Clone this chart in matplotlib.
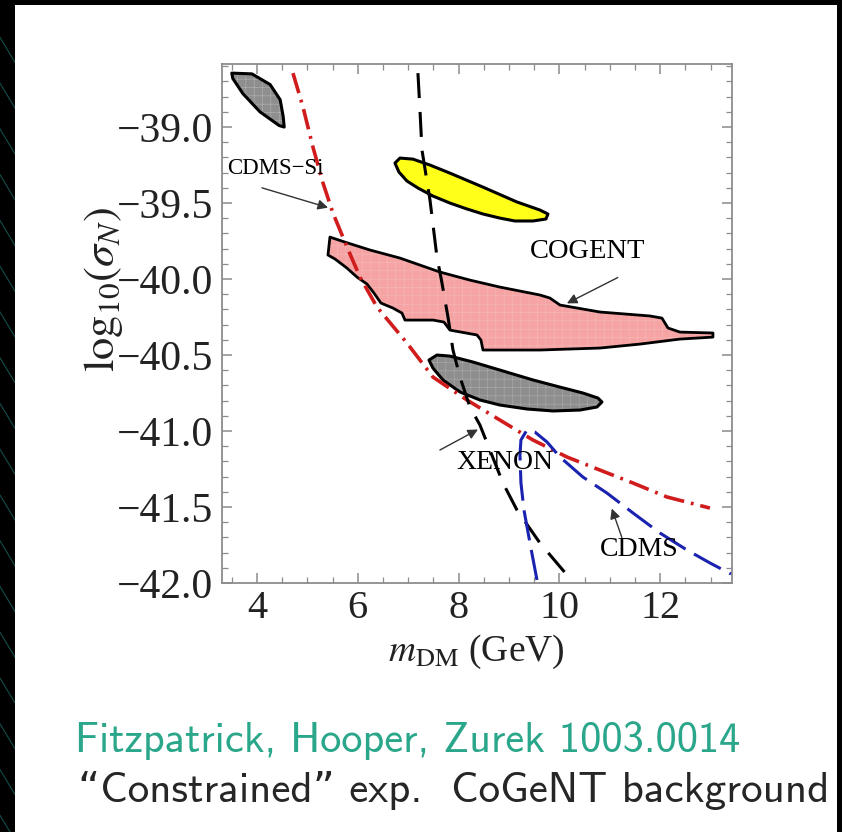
import matplotlib
matplotlib.use("Agg")
import matplotlib.pyplot as plt
from matplotlib.patches import Rectangle
from matplotlib.lines import Line2D
from matplotlib.ticker import MultipleLocator, FixedLocator

plt.rcParams['lines.scale_dashes'] = False
plt.rcParams['mathtext.fontset'] = 'stix'
plt.rcParams['hatch.linewidth'] = 0.4

# ---------------- data ----------------
# top-left gray region
blob_x = [3.50, 3.90, 4.26, 4.46, 4.52, 4.54, 4.44, 4.06, 3.72, 3.52]
blob_y = [-38.645, -38.65, -38.72, -38.82, -38.93, -39.0, -38.99, -38.90, -38.78, -38.68]

# yellow region
yellow_x = [6.738, 6.837, 7.095, 7.433, 7.829, 8.484, 9.159, 9.615, 9.774, 9.734,
            9.476, 9.119, 8.821, 8.484, 8.167, 7.829, 7.492, 7.194, 6.976, 6.817]
yellow_y = [-39.237, -39.204, -39.211, -39.250, -39.303, -39.395, -39.493, -39.546, -39.572, -39.605,
            -39.618, -39.618, -39.599, -39.572, -39.539, -39.500, -39.454, -39.401, -39.355, -39.296]

# COGENT (pink) region
cogent_x = [5.448, 5.746, 6.242, 6.837, 7.631, 8.226, 8.821, 9.615, 9.813, 10.012, 10.806, 11.798,
            12.036, 12.155, 12.393, 13.048, 13.048, 12.393, 11.599, 10.806, 9.615, 8.484, 8.444,
            8.365, 7.829, 7.710, 7.492, 6.937, 6.877, 6.698, 6.460, 6.321, 6.183, 5.984, 5.786,
            5.548, 5.409]
cogent_y = [-39.724, -39.757, -39.809, -39.862, -39.954, -40.007, -40.053, -40.105, -40.125, -40.171,
            -40.217, -40.243, -40.257, -40.322, -40.349, -40.355, -40.382, -40.395, -40.428, -40.454,
            -40.467, -40.467, -40.401, -40.368, -40.336, -40.283, -40.270, -40.270, -40.224, -40.191,
            -40.158, -40.092, -40.033, -39.987, -39.928, -39.868, -39.842]

# lower gray region
gray_x = [7.413, 7.571, 7.829, 8.286, 8.821, 9.476, 10.012, 10.468, 10.766, 10.845,
          10.746, 10.409, 9.873, 9.357, 8.821, 8.425, 8.028, 7.690, 7.492]
gray_y = [-40.533, -40.500, -40.507, -40.546, -40.599, -40.664, -40.711, -40.750, -40.783, -40.809,
          -40.842, -40.862, -40.868, -40.855, -40.829, -40.796, -40.743, -40.664, -40.586]

# CDMS-Si limit (red dash-dot)
cdmssi_x = [4.714, 4.913, 5.111, 5.310, 5.508, 5.786, 6.044, 6.381, 6.976, 7.492,
            8.167, 8.821, 9.476, 10.151, 10.806, 11.460, 12.135, 12.988]
cdmssi_y = [-38.645, -38.868, -39.132, -39.368, -39.566, -39.789, -39.987, -40.184, -40.421, -40.645,
            -40.796, -40.928, -41.059, -41.171, -41.257, -41.342, -41.434, -41.507]

# XENON limit (black dashed)
xenon_x = [7.194, 7.234, 7.274, 7.433, 7.571, 7.671, 7.790, 7.889, 8.028, 8.226,
           8.425, 8.881, 9.159, 9.615, 10.151]
xenon_y = [-38.645, -38.888, -39.151, -39.480, -39.855, -40.026, -40.250, -40.467, -40.645, -40.842,
           -40.961, -41.342, -41.520, -41.737, -41.947]

# CDMS limit (blue dashed)
cdms_x = [9.556, 9.417, 9.298, 9.238, 9.218, 9.238, 9.357, 9.516, 9.754, 10.012,
          10.468, 10.944, 11.460, 11.996, 12.532, 12.988, 13.405]
cdms_y = [-41.980, -41.737, -41.520, -41.342, -41.158, -41.059, -40.993, -41.007, -41.072, -41.171,
          -41.303, -41.408, -41.539, -41.671, -41.783, -41.868, -41.941]

xticks = [4, 6, 8, 10, 12]
xtick_labels = ['4', '6', '8', '10', '12']
yticks = [-42.0, -41.5, -41.0, -40.5, -40.0, -39.5, -39.0]
ytick_labels = ['\u221242.0', '\u221241.5', '\u221241.0', '\u221240.5', '\u221240.0', '\u221239.5', '\u221239.0']

caption1 = 'Fitzpatrick, Hooper, Zurek 1003.0014'
caption2 = '\u201cConstrained\u201d exp.  CoGeNT background'

# ---------------- figure ----------------
W, H = 842, 832
fig = plt.figure(figsize=(W / 100, H / 100), dpi=100, facecolor='black')

# teal streaks on the left dark margin
for i in range(18):
    y0 = 0.02 + i * 0.055
    fig.add_artist(Line2D([0, 15 / W], [y0, y0 - 0.03], transform=fig.transFigure,
                          color='#1d6f6a', lw=0.8, alpha=0.7, zorder=-20))

# white panel
fig.patches.append(Rectangle((15 / W, 0), (837 - 15) / W, (832 - 5) / H,
                             transform=fig.transFigure, facecolor='white',
                             edgecolor='none', zorder=-10))

ax = fig.add_axes([221.7 / W, 1 - 583 / H, (731.7 - 221.7) / W, (583 - 64) / H])
ax.set_zorder(1)
ax.set_facecolor('white')
ax.set_xlim(3.3, 13.42)
ax.set_ylim(-42.0, -38.585)

serif = 'Liberation Serif'

# regions
ax.fill(blob_x, blob_y, facecolor='#8e8e8e', edgecolor='#b4b4b4', hatch='++', lw=0, zorder=2)
ax.fill(blob_x, blob_y, facecolor='none', edgecolor='black', lw=2.2, joinstyle='round', zorder=3)
ax.fill(yellow_x, yellow_y, facecolor='#ffff1a', edgecolor='black', lw=2.2, joinstyle='round', zorder=3)
ax.fill(cogent_x, cogent_y, facecolor='#f5a3a3', edgecolor='#f7b8b8', hatch='++', lw=0, zorder=2)
ax.fill(cogent_x, cogent_y, facecolor='none', edgecolor='black', lw=2.0, joinstyle='round', zorder=3)
ax.fill(gray_x, gray_y, facecolor='#8e8e8e', edgecolor='#acacac', hatch='++', lw=0, zorder=2)
ax.fill(gray_x, gray_y, facecolor='none', edgecolor='black', lw=2.2, joinstyle='round', zorder=3)

# limit curves
ax.plot(cdmssi_x, cdmssi_y, color='#d01c1c', lw=2.6, linestyle=(0, (15, 5, 2, 5)), zorder=4)
ax.plot(xenon_x, xenon_y, color='black', lw=2.2, linestyle=(0, (18, 10)), zorder=4)
ax.plot(cdms_x, cdms_y, color='#1a22b0', lw=2.2, linestyle=(0, (22, 7)), zorder=4)

# annotations
ap = dict(arrowstyle='-|>', color='#333333', lw=1.0, mutation_scale=15, shrinkA=0, shrinkB=0)
ax.text(3.405, -39.27, 'CDMS\u2212Si', family=serif, fontsize=16.5, ha='left', va='center', zorder=5)
ax.annotate('', xy=(5.41, -39.53), xytext=(4.10, -39.40), arrowprops=ap, zorder=5)
ax.text(10.55, -39.82, 'COGENT', family=serif, fontsize=20.5, ha='center', va='center', zorder=5)
ax.annotate('', xy=(10.15, -40.16), xytext=(11.16, -39.99), arrowprops=ap, zorder=5)
ax.text(8.92, -41.21, 'XENON', family=serif, fontsize=20, ha='center', va='center', zorder=5)
ax.annotate('', xy=(8.385, -40.99), xytext=(7.63, -41.125), arrowprops=ap, zorder=5)
ax.text(11.58, -41.78, 'CDMS', family=serif, fontsize=20, ha='center', va='center', zorder=5)
ax.annotate('', xy=(11.04, -41.51), xytext=(11.24, -41.70), arrowprops=ap, zorder=5)

# frame and ticks
for s in ax.spines.values():
    s.set_color('#8c8c8c')
    s.set_linewidth(1.3)
ax.xaxis.set_major_locator(FixedLocator(xticks))
ax.set_xticklabels(xtick_labels)
ax.xaxis.set_minor_locator(MultipleLocator(0.5))
ax.yaxis.set_major_locator(FixedLocator(yticks))
ax.set_yticklabels(ytick_labels)
ax.yaxis.set_minor_locator(MultipleLocator(0.1))
ax.tick_params(which='both', direction='in', top=True, right=True, color='#8c8c8c')
ax.tick_params(which='major', length=7, width=1.1)
ax.tick_params(which='minor', length=4, width=0.9)
ax.tick_params(axis='y', which='major', labelsize=30, pad=6)
ax.tick_params(axis='x', which='major', labelsize=29, pad=5)
for lab in ax.get_xticklabels() + ax.get_yticklabels():
    lab.set_family(serif)
    lab.set_color('#222222')

ax.set_xlabel(r'$m_{\mathrm{DM}}$ (GeV)', family=serif, fontsize=27, color='#222222', labelpad=4)
ax.set_ylabel(r'$\mathrm{log}_{10}(\sigma_N)$', family=serif, fontsize=32, color='#222222')
ax.yaxis.set_label_coords(-0.19, 0.565)

# captions
fig.text(75 / W, 1 - 741 / H, caption1, family=['cmss10', 'DejaVu Sans'], fontsize=30.5,
         color='#2aa68a', ha='left', va='center')
fig.text(78 / W, 1 - 791 / H, caption2, family=['cmss10', 'DejaVu Sans'], fontsize=31,
         color='#262626', ha='left', va='center')

fig.savefig('out.png', dpi=100, facecolor=fig.get_facecolor())
